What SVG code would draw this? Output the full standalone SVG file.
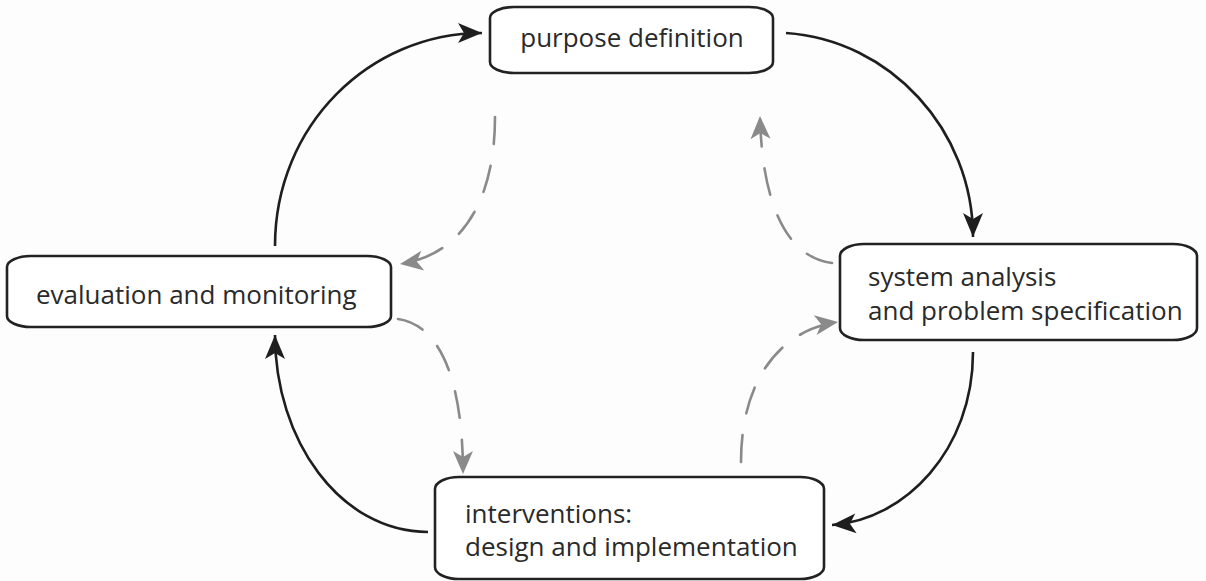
<svg xmlns="http://www.w3.org/2000/svg" width="1206" height="581" viewBox="0 0 1206 581">
<style>
.box{fill:#ffffff;stroke:#222;stroke-width:2.6}
.lbl{font-family:"Open Sans","Liberation Sans",sans-serif;font-size:26px;fill:#2a2a2a}
.solid{fill:none;stroke:#1e1e1e;stroke-width:2.6}
.dash{fill:none;stroke:#8a8a8a;stroke-width:2.6;stroke-dasharray:27 22;stroke-linecap:round}
</style>
<defs>
<marker id="ab" viewBox="-26 -12 28 24" markerWidth="28" markerHeight="24" refX="0" refY="0" markerUnits="userSpaceOnUse" orient="auto">
<path d="M0,0 L-24,-10 L-18,0 L-24,10 Z" fill="#1e1e1e"/>
</marker>
<marker id="ag" viewBox="-26 -12 28 24" markerWidth="28" markerHeight="24" refX="0" refY="0" markerUnits="userSpaceOnUse" orient="auto">
<path d="M0,0 L-23,-10 L-17,0 L-23,10 Z" fill="#8a8a8a"/>
</marker>
</defs>
<rect width="1206" height="581" fill="#fdfdfd"/>
<g id="connectors">
<path class="solid" d="M275,246 C275,125 370,33 482,33" marker-end="url(#ab)"/>
<path class="solid" d="M786,33 C890,40 973,130 973,237" marker-end="url(#ab)"/>
<path class="solid" d="M973,352 C973,450 905,520 832,525" marker-end="url(#ab)"/>
<path class="solid" d="M428,532 C340,532 275,440 275,335" marker-end="url(#ab)"/>
<path class="dash" d="M495,117 C495,200 462,255 400,264" marker-end="url(#ag)"/>
<path class="dash" d="M832,263 C790,258 762,210 760,116" marker-end="url(#ag)"/>
<path class="dash" d="M741,462 C741,380 780,330 838,322" marker-end="url(#ag)"/>
<path class="dash" d="M398,319 C440,325 463,380 463,474" marker-end="url(#ag)"/>
</g>
<g id="purpose">
<rect class="box" x="490" y="7" width="283" height="66" rx="24" ry="11"/>
<text class="lbl" x="632" y="47" text-anchor="middle">purpose definition</text>
</g>
<g id="evaluation">
<rect class="box" x="7" y="256" width="384" height="71" rx="24" ry="11"/>
<text class="lbl" x="36" y="304">evaluation and monitoring</text>
</g>
<g id="system">
<rect class="box" x="840" y="244" width="357" height="96" rx="24" ry="12"/>
<text class="lbl" x="868" y="286">system analysis</text>
<text class="lbl" x="868" y="320">and problem specification</text>
</g>
<g id="interventions">
<rect class="box" x="435" y="477" width="389" height="102" rx="24" ry="12"/>
<text class="lbl" x="465" y="523">interventions:</text>
<text class="lbl" x="465" y="556">design and implementation</text>
</g>
</svg>
